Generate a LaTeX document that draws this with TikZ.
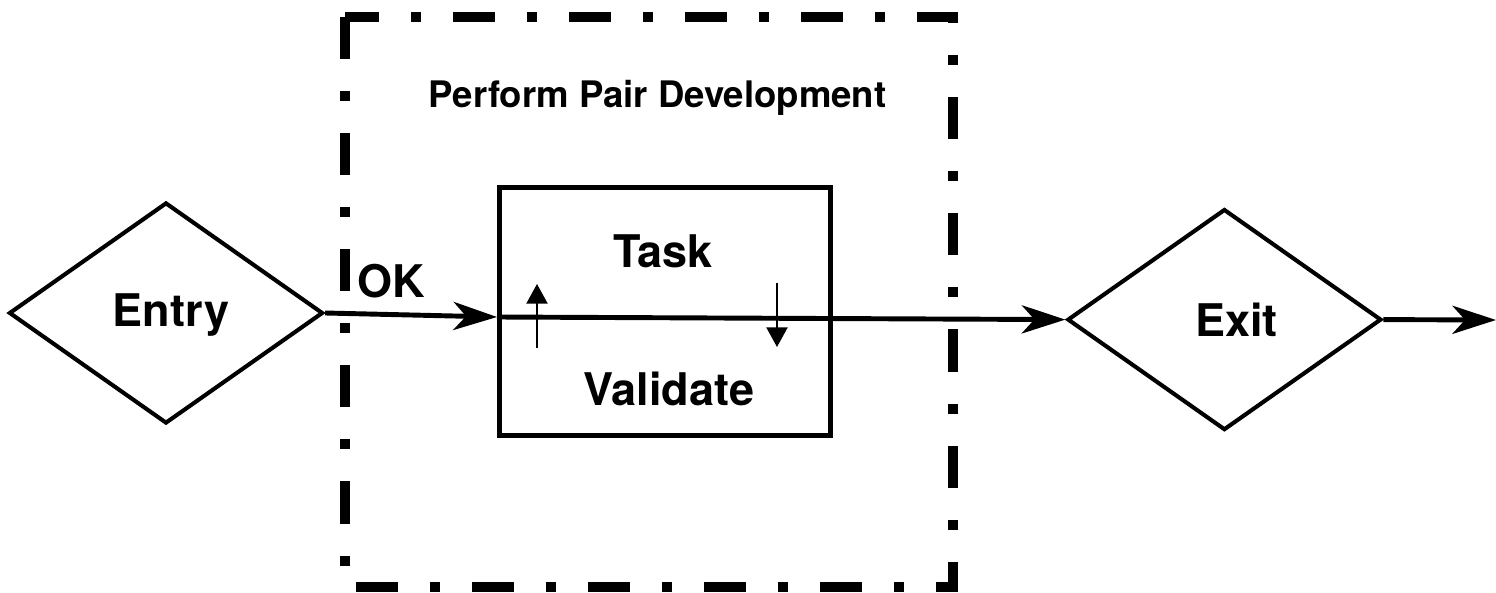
\documentclass[tikz,border=0pt]{standalone}
\usepackage{fontspec}
\setmainfont{TeX Gyre Heros}
\usepackage{tikz}
\usetikzlibrary{arrows.meta,shapes.geometric}

\begin{document}
\begin{tikzpicture}[
    gate/.style={diamond,draw,line width=2.9pt,inner sep=0pt,minimum width=7.85cm,minimum height=5.525cm},
    big/.style={font=\fontsize{32}{38}\selectfont\bfseries},
    flow/.style={line width=3.5pt,-{Stealth[length=31pt,width=20pt,inset=9pt]}},
    handoff/.style={line width=1.4pt,-{Triangle[length=14pt,width=15pt]}}]
    \useasboundingbox (0,0) rectangle (37.4,14.8);
    % dash-dot frame round the pair activity
    \draw[line width=7.1pt,dash pattern=on 29.9pt off 22.8pt on 7.1pt off 22.8pt]
        (8.625,14.375)--(8.625,0.125)--(23.825,0.125)--(23.825,14.375)--cycle;
    \node[anchor=base,font=\fontsize{26}{31}\selectfont\bfseries] (title) at (16.44,12.1) {Perform Pair Development};
    % gates and the work box
    \node[gate,label={[big,xshift=0.125cm,yshift=-0.05cm]center:Entry}] (entry) at (4.15,6.975) {};
    \node[gate,label={[big,xshift=0.3cm]center:Exit}] (exit) at (30.61,6.81) {};
    \node[draw,line width=3.5pt,minimum width=8.275cm,minimum height=6.2cm] (pair) at (16.625,7.0125) {};
    \node[big,anchor=base] (task) at (16.575,8.1) {Task};
    \node[big,anchor=base] (validate) at (16.725,4.675) {Validate};
    \node[big,anchor=base] (ok) at (9.775,7.35) {OK};
    % main flow
    \coordinate (in) at (12.425,6.875);
    \coordinate (out) at (37.4,6.8);
    \draw[flow] (entry.east) -- (in);
    \draw[flow] (in) -- (exit.west);
    \draw[flow] (exit.east) -- (out);
    % task <-> validate
    \coordinate (up1) at (13.425,6.1); \coordinate (up2) at (13.425,7.7);
    \coordinate (dn1) at (19.425,7.725); \coordinate (dn2) at (19.425,6.125);
    \draw[handoff] (up1) -- (up2);
    \draw[handoff] (dn1) -- (dn2);
\end{tikzpicture}
\end{document}
